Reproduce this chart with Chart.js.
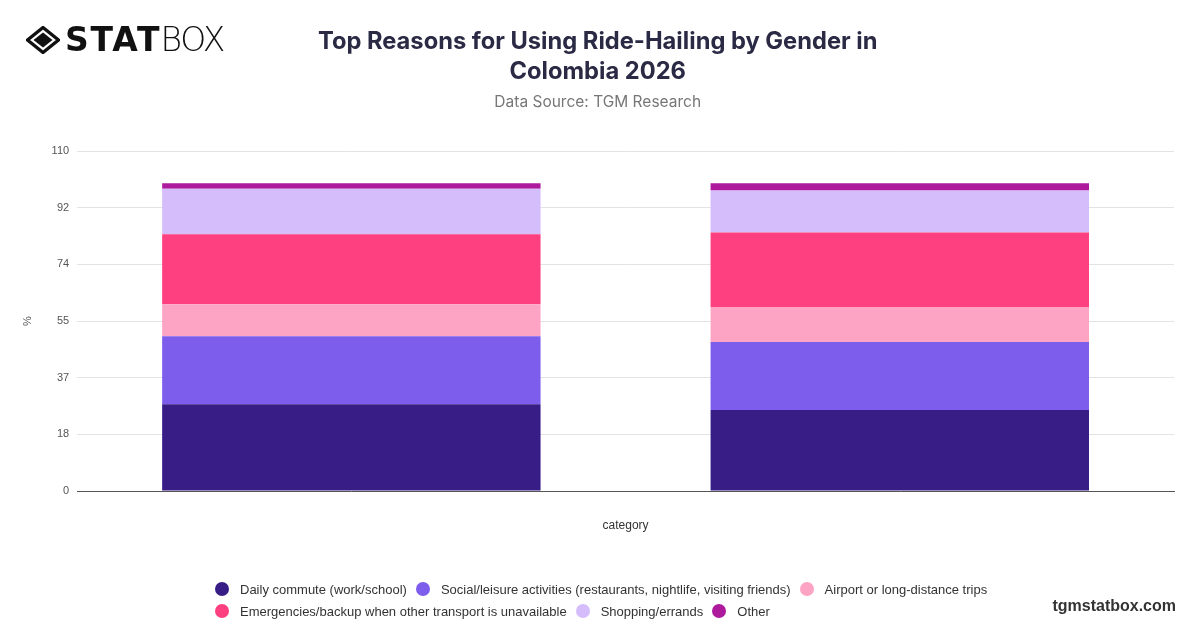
<!DOCTYPE html>
<html>
<head>
<meta charset="utf-8">
<script src="https://cdn.jsdelivr.net/npm/chart.js@4.4.1/dist/chart.umd.min.js"></script>
<style>
  html, body { margin: 0; padding: 0; background: #ffffff; }
  #wrap { position: relative; width: 1200px; height: 628px; overflow: hidden; background: #fff; }
  #c { position: absolute; left: 0; top: 0; }
  #logo { position: absolute; left: 26px; top: 18px; height: 44px; display: flex; align-items: center; color: #111; }
  #logo svg { margin-right: 5px; }
  #logo .stat { font-family: "DejaVu Sans", sans-serif; font-weight: 700; font-size: 33px; letter-spacing: 1.8px; line-height: 44px; }
  #logo .box { font-family: "DejaVu Sans", sans-serif; font-weight: 200; font-size: 33px; letter-spacing: -1.3px; line-height: 44px; margin-left: -1px; }
  #legend { position: absolute; left: 215px; top: 578px; width: 790px; display: flex; flex-wrap: wrap;
            font-family: "Liberation Sans", Arial, sans-serif; font-size: 13px; color: #333; }
  #legend .item { display: flex; align-items: center; height: 22px; margin-right: 9px; white-space: nowrap; }
  #legend .dot { width: 14px; height: 14px; border-radius: 50%; margin-right: 11px; flex: 0 0 14px; }
  #brand { position: absolute; right: 24px; top: 595px; font-family: "Liberation Sans", Arial, sans-serif;
           font-weight: 700; font-size: 16px; color: #333; line-height: 22px; }
</style>
</head>
<body>
<div id="wrap">
  <canvas id="c" width="1200" height="628"></canvas>
  <div id="logo">
    <svg width="34" height="28" viewBox="0 0 34 28">
      <path d="M17 1.5 L32.5 14 L17 26.5 L1.5 14 Z" fill="none" stroke="#111" stroke-width="3.4" stroke-linejoin="round"/>
      <path d="M17 6.5 L26.5 14 L17 21.5 L7.5 14 Z" fill="#111"/>
    </svg>
    <span class="stat">STAT</span><span class="box">BOX</span>
  </div>
  <div id="legend"></div>
  <div id="brand">tgmstatbox.com</div>
</div>
<script>
// ---- data ----
const categories = ['Male', 'Female'];
const seriesNames = [
  'Daily commute (work/school)',
  'Social/leisure activities (restaurants, nightlife, visiting friends)',
  'Airport or long-distance trips',
  'Emergencies/backup when other transport is unavailable',
  'Shopping/errands',
  'Other'
];
const dailyCommute = [28.2, 26.3];
const socialLeisure = [22.1, 22.1];
const airportTrips = [10.4, 11.2];
const emergencies = [22.7, 24.4];
const shopping = [14.8, 13.6];
const other = [1.8, 2.4];
const yTickValues = [0, 18.4, 36.8, 55.2, 73.6, 92, 110.4];
const yTickLabels = ['0', '18', '37', '55', '74', '92', '110'];

const seriesValues = [dailyCommute, socialLeisure, airportTrips, emergencies, shopping, other];
const seriesColors = ['#381d87', '#7d5eec', '#fda3c3', '#fe4081', '#d5bcfb', '#ad1a9c'];

const datasets = seriesNames.map((name, i) => ({
  label: name,
  data: seriesValues[i],
  backgroundColor: seriesColors[i],
  borderWidth: 0,
  barPercentage: 0.69,
  categoryPercentage: 1.0
}));

// HTML legend built from the series
const legendEl = document.getElementById('legend');
seriesNames.forEach((name, i) => {
  const it = document.createElement('div');
  it.className = 'item';
  const d = document.createElement('span');
  d.className = 'dot';
  d.style.background = seriesColors[i];
  const t = document.createElement('span');
  t.textContent = name;
  it.appendChild(d); it.appendChild(t);
  legendEl.appendChild(it);
});

new Chart(document.getElementById('c'), {
  type: 'bar',
  data: { labels: categories, datasets },
  options: {
    responsive: false,
    animation: false,
    devicePixelRatio: 1,
    layout: { padding: { top: 0, left: 21.4, right: 26, bottom: 90.8 } },
    plugins: {
      legend: { display: false },
      tooltip: { enabled: false },
      title: {
        display: true,
        text: ['Top Reasons for Using Ride-Hailing by Gender in', 'Colombia 2026'],
        color: '#2b2a45',
        font: { family: 'Inter', size: 23.7, weight: '700', lineHeight: 1.27 },
        padding: { top: 27, bottom: 6 }
      },
      subtitle: {
        display: true,
        text: 'Data Source: TGM Research',
        color: '#777777',
        font: { family: 'Inter', size: 15.5, weight: '400', lineHeight: 1.2 },
        padding: { top: 0, bottom: 39.4 }
      }
    },
    scales: {
      x: {
        stacked: true,
        grid: { display: false, drawTicks: false },
        border: { display: true, color: '#555555', width: 1 },
        ticks: { display: false },
        title: {
          display: true,
          text: 'category',
          color: '#333333',
          font: { family: 'Liberation Sans', size: 12, lineHeight: 1.2 },
          padding: { top: 27.8, bottom: 4 }
        }
      },
      y: {
        stacked: true,
        min: 0,
        max: 110.4,
        afterBuildTicks: (scale) => { scale.ticks = yTickValues.map(v => ({ value: v })); },
        grid: { color: '#e3e3e3', lineWidth: 1, drawTicks: false },
        border: { display: false },
        ticks: {
          padding: 8,
          color: '#555555',
          font: { family: 'Liberation Sans', size: 11 },
          callback: (value, index) => yTickLabels[index]
        },
        title: {
          display: true,
          text: '%',
          color: '#555555',
          font: { family: 'Liberation Sans', size: 11, lineHeight: 1.2 },
          padding: { top: 0, bottom: 9 }
        }
      }
    }
  }
});
</script>
</body>
</html>
